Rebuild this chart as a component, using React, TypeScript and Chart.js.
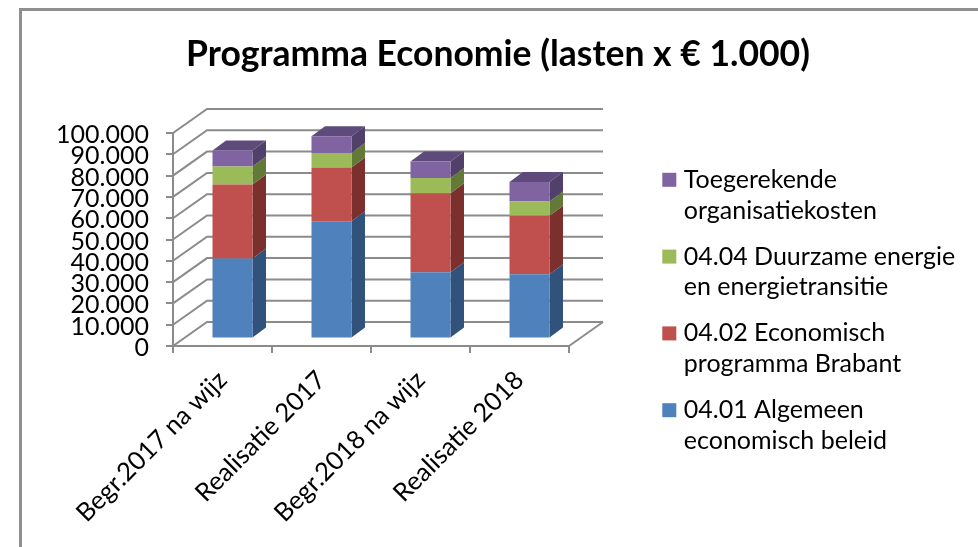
import React, { useEffect, useRef } from "react";
import { Chart, registerables } from "chart.js";

Chart.register(...registerables);

const titleText = "Programma Economie (lasten x € 1.000)";
const categories = ["Begr.2017 na wijz", "Realisatie 2017", "Begr.2018 na wijz", "Realisatie 2018"];
const algemeen = [37600, 55000, 31100, 30200];
const economisch = [34700, 25300, 37100, 27400];
const duurzaam = [8500, 6800, 7200, 6700];
const organisatie = [7500, 7800, 7700, 9200];
const labelAlgemeen = ["04.01 Algemeen", "economisch beleid"];
const labelEconomisch = ["04.02 Economisch", "programma Brabant"];
const labelDuurzaam = ["04.04 Duurzame energie", "en energietransitie"];
const labelOrganisatie = ["Toegerekende", "organisatiekosten"];

const FONT = "Lato";
const GRID = "#8b8b8b";
const frontColors = ["#4F81BD", "#C0504D", "#9BBB59", "#8064A2"];
const sideColors = ["#30527B", "#7B302E", "#637937", "#50406A"];
const TOP_COLOR = "#5E4A7B";

// 3D projection offsets (in px)
const WALL = { dx: 34, dy: 24 };
const BAR_SHIFT = { dx: 10, dy: 7.5 };
const BAR_DEPTH = { dx: 13.5, dy: 10 };

const poly = (ctx: CanvasRenderingContext2D, pts: number[][], fill: string) => {
  ctx.beginPath();
  pts.forEach(([x, y], i) => (i ? ctx.lineTo(x, y) : ctx.moveTo(x, y)));
  ctx.closePath();
  ctx.fillStyle = fill;
  ctx.fill();
};

const threeD = {
  id: "threeD",
  afterLayout(chart: any) {
    const legend = chart.legend;
    legend.left = 652;
    legend.right = 978;
    legend.top = 152;
    legend.bottom = 547;
    chart.titleBlock.left = 18;
    chart.titleBlock.right = 978;
  },
  beforeDatasetsDraw(chart: any) {
    const { ctx, chartArea: a, scales } = chart;
    const y = scales.y;
    ctx.save();
    // Outer frame of the picture
    ctx.strokeStyle = "#8f8f8f";
    ctx.lineWidth = 3;
    ctx.beginPath();
    ctx.moveTo(978, 9.5);
    ctx.lineTo(20.5, 9.5);
    ctx.lineTo(20.5, 547);
    ctx.stroke();
    // Left wall and back wall
    ctx.strokeStyle = GRID;
    ctx.lineWidth = 2;
    ctx.beginPath();
    y.ticks.forEach((t: any) => {
      const p = y.getPixelForValue(t.value);
      ctx.moveTo(a.left, p);
      ctx.lineTo(a.left + WALL.dx, p - WALL.dy);
      ctx.lineTo(a.right + WALL.dx, p - WALL.dy);
    });
    // Floor's right edge
    ctx.moveTo(a.right, a.bottom);
    ctx.lineTo(a.right + WALL.dx, a.bottom - WALL.dy);
    ctx.stroke();
    ctx.restore();

    // Bars sit in the middle of the floor's depth
    ctx.save();
    ctx.translate(BAR_SHIFT.dx, -BAR_SHIFT.dy);
    const count = chart.data.datasets.length;
    chart.data.datasets.forEach((_: any, i: number) => {
      chart.getDatasetMeta(i).data.forEach((el: any) => {
        const { x, y: top, base, width } = el.getProps(["x", "y", "base", "width"], true);
        const r = x + width / 2;
        const l = x - width / 2;
        const { dx, dy } = BAR_DEPTH;
        poly(ctx, [[r, top], [r + dx, top - dy], [r + dx, base - dy], [r, base]], sideColors[i]);
        if (i === count - 1) {
          poly(ctx, [[l, top], [l + dx, top - dy], [r + dx, top - dy], [r, top]], TOP_COLOR);
        }
      });
    });
  },
  afterDatasetsDraw(chart: any) {
    chart.ctx.restore();
  },
};

export default function App() {
  const ref = useRef<HTMLCanvasElement>(null);
  useEffect(() => {
    const chart = new Chart(ref.current as HTMLCanvasElement, {
      type: "bar",
      data: {
        labels: categories,
        datasets: [
          { label: labelAlgemeen as any, data: algemeen, backgroundColor: frontColors[0] },
          { label: labelEconomisch as any, data: economisch, backgroundColor: frontColors[1] },
          { label: labelDuurzaam as any, data: duurzaam, backgroundColor: frontColors[2] },
          { label: labelOrganisatie as any, data: organisatie, backgroundColor: frontColors[3] },
        ].map((d) => ({ ...d, categoryPercentage: 1, barPercentage: 0.404, clip: false as any })),
      },
      options: {
        responsive: false,
        animation: false,
        layout: { padding: { left: 0, top: 0, bottom: 0, right: 369 } },
        plugins: {
          tooltip: { enabled: false },
          title: {
            display: true,
            text: titleText,
            color: "#000",
            font: { family: FONT, size: 35.5, weight: "bold", lineHeight: 1.2 },
            padding: { top: 33.7, bottom: 56.7 },
          },
          legend: {
            position: "right",
            align: "start",
            maxWidth: 40,
            reverse: true,
            labels: {
              boxWidth: 4,
              boxHeight: 4,
              padding: 15.3,
              color: "#000",
              font: { family: FONT, size: 25, lineHeight: 1.23 },
              generateLabels: (c: any) =>
                c.data.datasets.map((d: any, i: number) => ({
                  text: d.label,
                  fillStyle: d.backgroundColor,
                  strokeStyle: d.backgroundColor,
                  lineWidth: 10,
                  datasetIndex: i,
                })),
            },
          },
        },
        scales: {
          x: {
            stacked: true,
            afterFit: (s: any) => {
              s.height = 201;
            },
            grid: { drawOnChartArea: false, color: GRID, lineWidth: 2, tickLength: 7 },
            border: { color: GRID, width: 2 },
            ticks: {
              color: "#000",
              font: { family: FONT, size: 25.5 },
              minRotation: 45,
              maxRotation: 45,
              autoSkip: false,
              padding: 12,
            },
          },
          y: {
            stacked: true,
            min: 0,
            max: 100000,
            afterFit: (s: any) => {
              s.width = 173;
            },
            grid: { drawOnChartArea: false, color: GRID, lineWidth: 2, tickLength: 7 },
            border: { color: GRID, width: 2 },
            ticks: {
              stepSize: 10000,
              color: "#000",
              font: { family: FONT, size: 25 },
              padding: 17,
              labelOffset: 2,
              autoSkip: false,
              callback: (v: any) => String(v).replace(/\B(?=(\d{3})+$)/g, "."),
            },
          },
        },
      },
      plugins: [threeD],
    } as any);
    return () => chart.destroy();
  }, []);
  return (
    <div style={{ position: "absolute", left: 0, top: 0, width: 978, height: 547, background: "#fff" }}>
      <canvas ref={ref} width={978} height={547} style={{ display: "block", filter: "blur(0.7px)" }} />
    </div>
  );
}
